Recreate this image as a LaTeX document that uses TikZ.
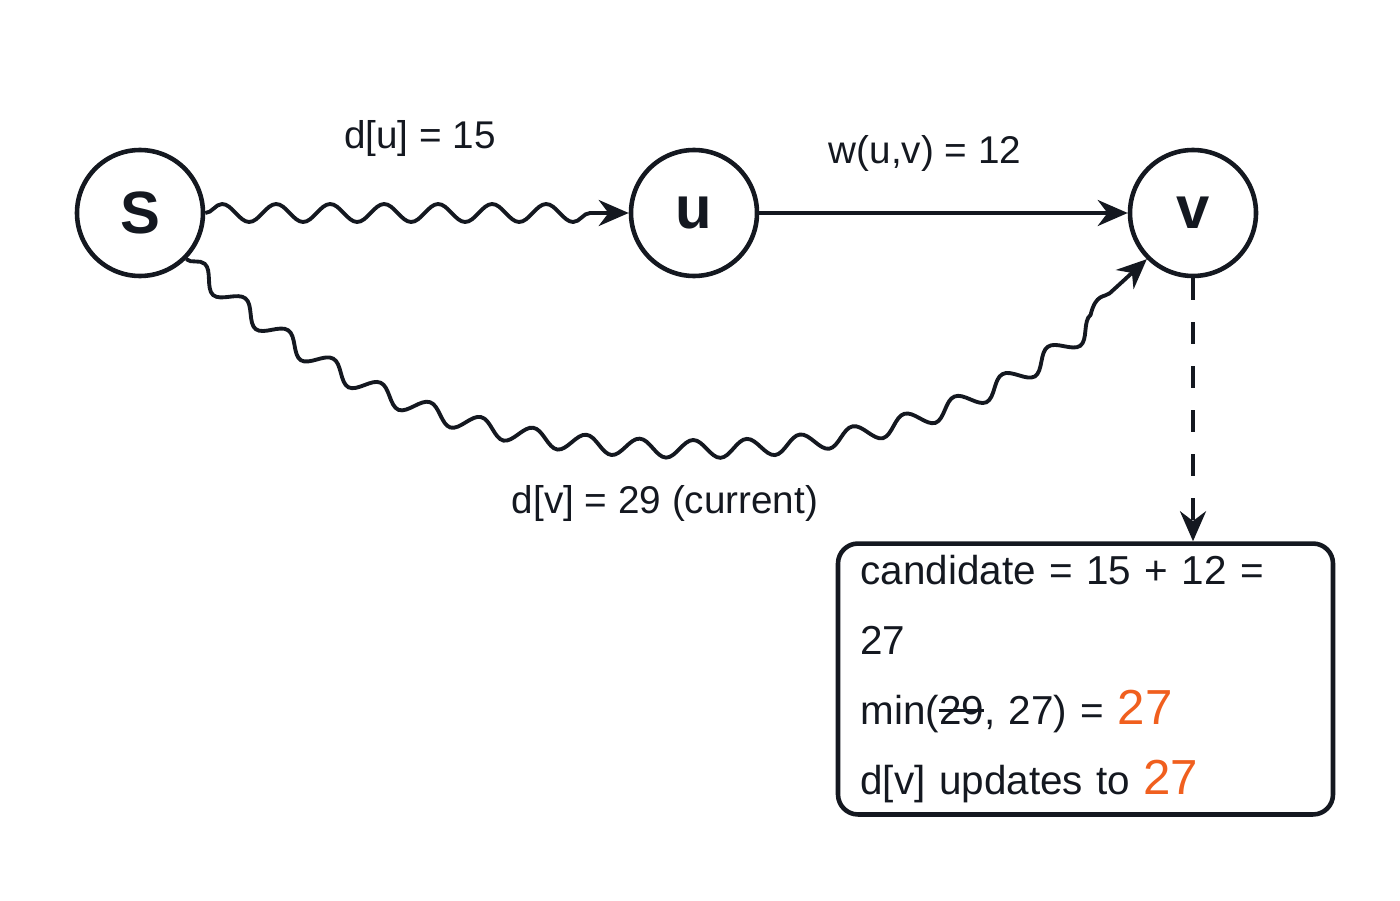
\documentclass[tikz,border=0pt]{standalone}
\usepackage{fontspec}
\setmainfont{Liberation Sans}
\usetikzlibrary{positioning, decorations.pathmorphing, arrows.meta}

\definecolor{hiorange}{RGB}{240,95,30}
\definecolor{ink}{RGB}{20,24,32}

\newcommand{\struck}[1]{{\setbox0\hbox{#1}\rlap{\rule[0.6ex]{\wd0}{0.8pt}}\box0}}

\begin{document}
\begin{tikzpicture}[> = {Stealth[length = 3mm, width = 2.6mm]}, ink]

	% Styles

	\tikzset{
		vertex/.style = {circle, draw = ink, line width = 1.3pt, minimum size = 1.26cm, inner sep = 0, font = \fontsize{17}{17}\selectfont\bfseries},
		wavy/.style = {decorate, decoration = {snake, amplitude = 0.9mm, segment length = 5.4mm, post length = 3mm}},
		lbl/.style = {font = \fontsize{11}{13}\selectfont},
	}

	\useasboundingbox (0, 0) rectangle (14, 9);

	% Vertices

	\node [vertex] (s) at (1.40, 6.87) {S};
	\node [vertex] (u) at (6.94, 6.87) {u};
	\node [vertex] (v) at (11.93, 6.87) {v};

	% Edges

	\draw [->, line width = 1.1pt, wavy] (s.east) -- (u.west);
	\draw [->, line width = 1.1pt] (u) -- (v);
	\draw [->, line width = 1.1pt, wavy] (s.south east) .. controls (3.2, 5.2) and (4.5, 4.6) .. (6.9, 4.6)
		.. controls (9.5, 4.6) and (10.6, 5.6) .. (v.south west);

	% Labels

	\node [lbl] (du) at (4.20, 7.61) {d[u] = 15};
	\node [lbl] (wuv) at (9.25, 7.47) {w(u,v) = 12};
	\node [lbl] (dv) at (6.65, 3.96) {d[v] = 29 (current)};

	% Relaxation box

	\node [draw = ink, line width = 1.3pt, rounded corners = 2mm, minimum width = 4.95cm, minimum height = 2.48cm,
		align = left, text width = 4.5cm, font = \fontsize{11.5}{19.9}\selectfont] (box) at (10.855, 2.21)
		{candidate = 15 + 12 = 27\\
		 min(\struck{29}, 27) = \textcolor{hiorange}{\fontsize{14}{14}\selectfont 27}\\
		 d[v] updates to \textcolor{hiorange}{\fontsize{14}{14}\selectfont 27}};

	\draw [->, line width = 1.1pt, dashed, dash pattern = on 2.2mm off 2.2mm] (v.south) -- (box.north -| v.south);

\end{tikzpicture}
\end{document}
